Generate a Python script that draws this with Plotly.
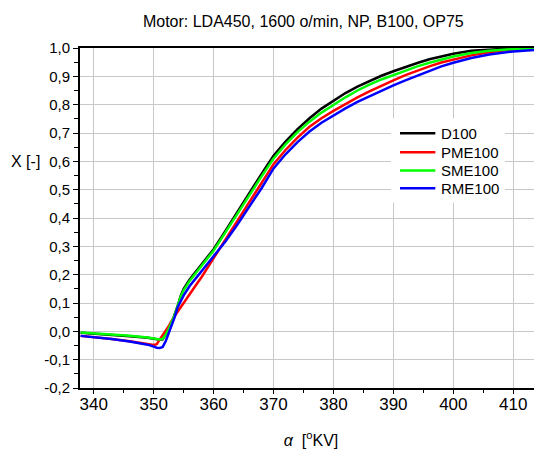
import plotly.graph_objects as go

# crank angle [deg KV]
alpha = [337.8, 340, 343, 346, 349, 350, 350.5, 351, 351.5, 352, 352.5, 353, 353.5,
         354, 354.5, 355, 356, 357, 358, 359, 360, 362, 364, 366, 368, 370, 372, 374,
         376, 378, 380, 382, 384, 386, 388, 390, 392, 394, 396, 398, 400, 403, 406,
         410, 415]

# mass fraction burned X [-]
d100 = [-0.005, -0.008, -0.012, -0.017, -0.023, -0.026, -0.028, -0.030, -0.028, -0.012,
        0.008, 0.030, 0.058, 0.090, 0.125, 0.150, 0.183, 0.210, 0.237, 0.264, 0.290,
        0.355, 0.423, 0.490, 0.556, 0.620, 0.670, 0.714, 0.752, 0.786, 0.815, 0.841,
        0.864, 0.884, 0.902, 0.918, 0.933, 0.947, 0.960, 0.971, 0.980, 0.990, 0.995,
        0.999, 1.000]
pme100 = [-0.016, -0.020, -0.027, -0.035, -0.044, -0.048, -0.045, -0.030, -0.015, 0.000,
          0.018, 0.038, 0.055, 0.070, 0.085, 0.100, 0.133, 0.162, 0.192, 0.225, 0.260,
          0.322, 0.388, 0.455, 0.523, 0.590, 0.640, 0.684, 0.722, 0.752, 0.778, 0.803,
          0.826, 0.847, 0.867, 0.886, 0.904, 0.920, 0.935, 0.949, 0.960, 0.974, 0.985,
          0.995, 0.999]
sme100 = [-0.004, -0.007, -0.011, -0.016, -0.022, -0.025, -0.027, -0.029, -0.027, -0.012,
          0.008, 0.030, 0.058, 0.090, 0.122, 0.145, 0.178, 0.205, 0.232, 0.259, 0.285,
          0.350, 0.417, 0.483, 0.547, 0.610, 0.660, 0.703, 0.740, 0.772, 0.800, 0.826,
          0.850, 0.871, 0.889, 0.905, 0.921, 0.935, 0.948, 0.960, 0.970, 0.982, 0.990,
          0.996, 0.999]
rme100 = [-0.016, -0.020, -0.027, -0.036, -0.047, -0.054, -0.058, -0.059, -0.055, -0.035,
          -0.008, 0.022, 0.050, 0.085, 0.108, 0.127, 0.160, 0.186, 0.212, 0.237, 0.262,
          0.318, 0.378, 0.440, 0.505, 0.575, 0.625, 0.668, 0.705, 0.736, 0.762, 0.787,
          0.810, 0.830, 0.850, 0.868, 0.886, 0.903, 0.920, 0.935, 0.948, 0.965, 0.977,
          0.988, 0.995]

series = [
    ("D100", d100, "#000000"),
    ("PME100", pme100, "#ff0000"),
    ("SME100", sme100, "#00ff00"),
    ("RME100", rme100, "#0000ff"),
]

y_ticks = [-0.2, -0.1, 0.0, 0.1, 0.2, 0.3, 0.4, 0.5, 0.6, 0.7, 0.8, 0.9, 1.0]
y_labels = ["-0,2", "-0,1", "0,0", "0,1", "0,2", "0,3", "0,4", "0,5", "0,6", "0,7",
            "0,8", "0,9", "1,0"]
x_ticks = [340, 350, 360, 370, 380, 390, 400, 410]
x_range = [337.7, 414.8]

fig = go.Figure()
for name, vals, col in series:
    fig.add_trace(go.Scatter(x=alpha, y=vals, mode="lines", name=name,
                             line=dict(color=col, width=2.5)))
# invisible trace so the tick-mark axis gets drawn
fig.add_trace(go.Scatter(x=x_range, y=[None, None], xaxis="x2", mode="lines",
                         showlegend=False, hoverinfo="skip"))

# page body adds an 8px margin, so the figure is sized to fit the window
fig.update_layout(
    width=534, height=444,
    margin=dict(l=72, r=0, t=40, b=64),
    paper_bgcolor="white", plot_bgcolor="white",
    font=dict(family="Liberation Sans, Arial, sans-serif", color="#000000"),
    title=dict(text="Motor: LDA450, 1600 o/min, NP, B100, OP75",
               x=0.553, xanchor="center", y=0.97, yanchor="middle",
               font=dict(size=16)),
    showlegend=False,
    # labels + grid on the main x axis, tick marks on an overlay so labels sit close
    xaxis=dict(range=x_range, tickvals=x_ticks,
               showline=True, linecolor="black", linewidth=2, mirror=True, ticks="",
               showgrid=True, gridcolor="#c8c8c8", gridwidth=1,
               tickfont=dict(size=17), zeroline=False,
               title=dict(text="<i>α</i>  [<sup>o</sup>KV]", font=dict(size=16), standoff=21)),
    xaxis2=dict(overlaying="x", anchor="y", side="bottom", range=x_range,
                tickvals=x_ticks, showticklabels=False, showgrid=False,
                showline=False, zeroline=False,
                ticks="outside", ticklen=5, tickcolor="black",
                minor=dict(ticks="outside", ticklen=4, dtick=5, tick0=335,
                           tickcolor="black", showgrid=False)),
    yaxis=dict(range=[-0.2, 1.0], tickvals=y_ticks, ticktext=y_labels,
               showline=True, linecolor="black", linewidth=2,
               ticks="outside", ticklen=5, tickcolor="black",
               minor=dict(ticks="outside", ticklen=4, dtick=0.05, tick0=0,
                          tickcolor="black", showgrid=False),
               showgrid=True, gridcolor="#c8c8c8", gridwidth=1,
               tickfont=dict(size=15), zeroline=False),
)

fig.add_annotation(text="X [-]", xref="paper", yref="y", x=-0.082, y=0.6,
                   xanchor="right", yanchor="middle", showarrow=False,
                   font=dict(size=16))

# legend drawn by hand to match the original entry spacing
leg_y = [0.699, 0.632, 0.568, 0.505]
fig.add_shape(type="rect", xref="x", yref="y", x0=389.6, x1=408.6, y0=0.455, y1=0.752,
              fillcolor="white", line_width=0, layer="between")
for (name, vals, col), ly in zip(series, leg_y):
    fig.add_shape(type="line", xref="x", yref="y", x0=391.1, x1=397.0, y0=ly, y1=ly,
                  line=dict(color=col, width=2.5))
    fig.add_annotation(text=name, xref="x", yref="y", x=397.6, y=ly,
                       xanchor="left", yanchor="middle", showarrow=False,
                       font=dict(size=15))

fig.write_html("out.html")
